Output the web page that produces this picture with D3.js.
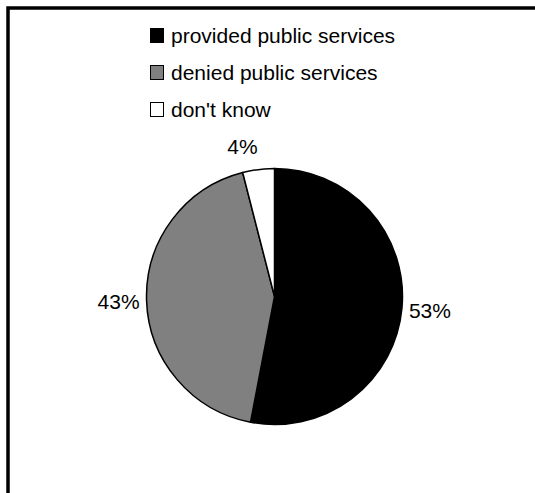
<!DOCTYPE html>
<html>
<head>
<meta charset="utf-8">
<script src="https://cdn.jsdelivr.net/npm/d3@7"></script>
<style>
  body { margin: 0; background: #fff; }
  text { font-family: "Liberation Sans", Arial, sans-serif; fill: #000; }
</style>
</head>
<body>
<div id="chart"></div>
<script>
// chart data
var categories = ["provided public services", "denied public services", "don't know"];
var shares = [53, 43, 4];
var labels = ["53%", "43%", "4%"];

var svgWidth = 535;
var svgHeight = 493;

var svg = d3.select("#chart")
    .append("svg")
    .attr("width", svgWidth)
    .attr("height", svgHeight);

// frame (runs off the right and bottom edges)
svg.append("rect")
    .attr("x", 8)
    .attr("y", 8)
    .attr("width", 700)
    .attr("height", 700)
    .attr("fill", "none")
    .attr("stroke", "#000")
    .attr("stroke-width", 3.5);

var colour = d3.scaleOrdinal()
    .domain(categories)
    .range(["#000000", "#808080", "#ffffff"]);

// legend
var legend = svg.append("g")
    .attr("transform", "translate(150, 0)");

var rows = legend.selectAll("g")
    .data(categories)
    .enter()
    .append("g")
    .attr("transform", (d, i) => `translate(0, ${43 + i * 37})`);

rows.append("rect")
    .attr("x", 0.5)
    .attr("y", -14.5)
    .attr("width", 13)
    .attr("height", 14)
    .attr("fill", d => colour(d))
    .attr("stroke", "#000")
    .attr("stroke-width", 1);

rows.append("text")
    .attr("x", 21)
    .attr("y", 0)
    .attr("font-size", "21px")
    .text(d => d);

// pie
var cx = 274.5, cy = 296.5, radius = 128;

var pie = d3.pie()
    .sort(null)
    .value(d => d);

var arc = d3.arc()
    .innerRadius(0)
    .outerRadius(radius);

var pieGroup = svg.append("g")
    .attr("transform", `translate(${cx}, ${cy})`);

var arcs = pie(shares);

pieGroup.selectAll("path")
    .data(arcs)
    .enter()
    .append("path")
    .attr("d", arc)
    .attr("fill", (d, i) => colour(categories[i]))
    .attr("stroke", "#000")
    .attr("stroke-width", 1.5)
    .attr("stroke-linejoin", "round");

// outside labels
var labelR = radius + 7;
pieGroup.selectAll("text")
    .data(arcs)
    .enter()
    .append("text")
    .attr("font-size", "21px")
    .attr("dominant-baseline", "central")
    .attr("text-anchor", function (d) {
        var s = Math.sin((d.startAngle + d.endAngle) / 2);
        return s > 0.3 ? "start" : (s < -0.05 ? "end" : "middle");
    })
    .attr("x", function (d) {
        return labelR * Math.sin((d.startAngle + d.endAngle) / 2);
    })
    .attr("y", function (d) {
        var c = Math.cos((d.startAngle + d.endAngle) / 2);
        return -labelR * c - c * 16;
    })
    .text((d, i) => labels[i]);
</script>
</body>
</html>
